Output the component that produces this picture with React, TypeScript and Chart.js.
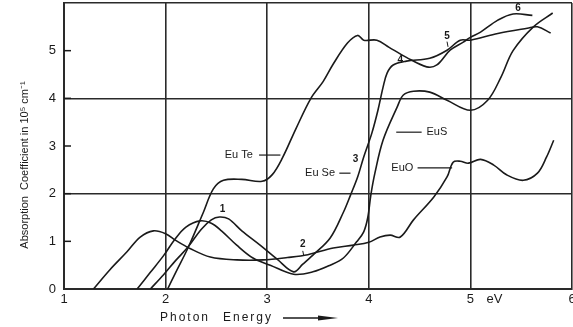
import { useEffect, useRef } from "react";
import { Chart, registerables } from "chart.js";

Chart.register(...registerables);

// Photon energy (eV) and absorption coefficient (10^5 cm^-1) for each compound
const euoEnergy = [1.29, 1.45, 1.62, 1.75, 1.88, 2.0, 2.1, 2.24, 2.44, 2.7, 2.96, 3.2, 3.4, 3.65, 3.85, 4.0, 4.11, 4.21, 4.31, 4.44, 4.64, 4.77, 4.83, 4.9, 4.98, 5.1, 5.23, 5.36, 5.52, 5.66, 5.75, 5.82];
const euoAbs = [0, 0.4, 0.78, 1.09, 1.22, 1.16, 1.02, 0.85, 0.67, 0.61, 0.61, 0.66, 0.72, 0.86, 0.92, 0.98, 1.09, 1.13, 1.09, 1.45, 1.93, 2.35, 2.66, 2.68, 2.64, 2.72, 2.6, 2.39, 2.28, 2.43, 2.77, 3.12];

const eusEnergy = [1.72, 1.85, 1.98, 2.09, 2.2, 2.34, 2.45, 2.55, 2.7, 2.86, 3.03, 3.26, 3.45, 3.62, 3.75, 3.88, 3.95, 3.99, 4.02, 4.06, 4.14, 4.28, 4.34, 4.44, 4.6, 4.77, 5.0, 5.17, 5.3, 5.42, 5.62, 5.81];
const eusAbs = [0, 0.35, 0.7, 1.04, 1.3, 1.43, 1.38, 1.22, 0.92, 0.65, 0.5, 0.31, 0.36, 0.5, 0.65, 0.99, 1.2, 1.5, 1.97, 2.43, 3.12, 3.82, 4.07, 4.15, 4.13, 3.96, 3.75, 3.96, 4.44, 5.0, 5.5, 5.79];

const euseEnergy = [1.85, 1.98, 2.1, 2.22, 2.35, 2.45, 2.53, 2.62, 2.75, 2.93, 3.1, 3.26, 3.35, 3.45, 3.62, 3.75, 3.82, 3.89, 3.95, 4.03, 4.09, 4.14, 4.18, 4.24, 4.37, 4.6, 4.77, 4.9, 5.0, 5.27, 5.56, 5.66, 5.79];
const euseAbs = [0, 0.3, 0.6, 0.88, 1.25, 1.45, 1.51, 1.47, 1.22, 0.92, 0.62, 0.36, 0.52, 0.71, 1.07, 1.61, 1.97, 2.35, 2.77, 3.27, 3.75, 4.23, 4.53, 4.7, 4.78, 4.84, 5.01, 5.22, 5.22, 5.36, 5.47, 5.5, 5.37];

const euteEnergy = [2.02, 2.1, 2.22, 2.37, 2.47, 2.57, 2.75, 2.95, 3.05, 3.15, 3.28, 3.43, 3.55, 3.65, 3.79, 3.89, 3.95, 4.08, 4.2, 4.37, 4.57, 4.67, 4.8, 4.93, 5.0, 5.1, 5.27, 5.42, 5.61];
const euteAbs = [0, 0.35, 0.86, 1.6, 2.1, 2.28, 2.3, 2.26, 2.4, 2.75, 3.35, 4.0, 4.35, 4.72, 5.16, 5.32, 5.22, 5.22, 5.07, 4.86, 4.66, 4.7, 5.01, 5.18, 5.28, 5.39, 5.64, 5.77, 5.74];

// Axis ticks
const energyTicks = [1, 2, 3, 4, 5, 6];
const absTicks = [0, 1, 2, 3, 4, 5];
const energyGrid = [2, 3, 4, 5, 6];
const absGrid = [2, 4, 6];

// Curve names with a leader line: [text, textX, textY, lineFromX, lineToX]
const curveNames: [string, number, number, number, number][] = [
  ["Eu Te", 2.72, 2.81, 2.92, 3.13],
  ["Eu Se", 3.52, 2.43, 3.71, 3.82],
  ["EuS", 4.67, 3.29, 4.27, 4.52],
  ["EuO", 4.33, 2.54, 4.48, 4.82],
];

// Numbered features: [text, x, y]
const featureMarks: [string, number, number][] = [
  ["1", 2.56, 1.68],
  ["2", 3.35, 0.93],
  ["3", 3.87, 2.73],
  ["4", 4.31, 4.8],
  ["5", 4.77, 5.3],
  ["6", 5.47, 5.88],
];

const INK = "#1a1a1a";
const FONT = "'Liberation Sans', Arial, sans-serif";

const toPoints = (xs: number[], ys: number[]) => xs.map((x, i) => ({ x, y: ys[i] }));

const decorations = {
  id: "decorations",
  afterDraw(chart: any) {
    const { ctx, scales } = chart;
    const xs = scales.x;
    const ys = scales.y;
    const px = (v: number) => xs.getPixelForValue(v);
    const py = (v: number) => ys.getPixelForValue(v);
    ctx.save();
    ctx.fillStyle = INK;
    ctx.strokeStyle = INK;

    // inward tick marks on the left axis
    ctx.lineWidth = 1.5;
    absTicks.forEach((v) => {
      if (v === 0) return;
      ctx.beginPath();
      ctx.moveTo(xs.left, py(v));
      ctx.lineTo(xs.left + 7, py(v));
      ctx.stroke();
    });

    // unit after the "5" tick label
    ctx.font = `13px ${FONT}`;
    ctx.textAlign = "left";
    ctx.textBaseline = "middle";
    ctx.fillText("eV", px(5) + 16, ys.bottom + 10);

    // curve names and leader lines
    ctx.font = `11px ${FONT}`;
    ctx.textAlign = "center";
    curveNames.forEach(([t, tx, ty, a, b]) => {
      ctx.fillText(t, px(tx), py(ty));
      ctx.lineWidth = 1.2;
      ctx.beginPath();
      ctx.moveTo(px(a), py(ty));
      ctx.lineTo(px(b), py(ty));
      ctx.stroke();
    });

    // numbered features
    ctx.font = `bold 10px ${FONT}`;
    featureMarks.forEach(([t, x, y]) => {
      ctx.fillText(t, px(x), py(y));
    });
    ctx.lineWidth = 1;
    [[3.35, 0.8, 0.7], [4.77, 5.19, 5.08]].forEach(([x, y0, y1]) => {
      ctx.beginPath();
      ctx.moveTo(px(x), py(y0));
      ctx.lineTo(px(x) + 1, py(y1));
      ctx.stroke();
    });

    // y axis title
    ctx.save();
    ctx.translate(25, 165);
    ctx.rotate(-Math.PI / 2);
    ctx.font = `11px ${FONT}`;
    ctx.textAlign = "center";
    ctx.textBaseline = "middle";
    ctx.fillText("Absorption  Coefficient in 10\u2075 cm\u207B\u00B9", 0, 0);
    ctx.restore();

    // x axis title with arrow
    ctx.font = `12px ${FONT}`;
    ctx.textAlign = "left";
    ctx.textBaseline = "middle";
    (ctx as any).letterSpacing = "2px";
    ctx.fillText("Photon", 160, 318);
    ctx.fillText("Energy", 223, 318);
    (ctx as any).letterSpacing = "0px";
    ctx.lineWidth = 1.5;
    ctx.beginPath();
    ctx.moveTo(283, 318);
    ctx.lineTo(322, 318);
    ctx.stroke();
    ctx.beginPath();
    ctx.moveTo(318, 315.5);
    ctx.lineTo(338, 318);
    ctx.lineTo(318, 320.5);
    ctx.closePath();
    ctx.fill();

    ctx.restore();
  },
};

export default function App() {
  const ref = useRef<HTMLCanvasElement>(null);

  useEffect(() => {
    if (!ref.current) return;
    const line = (label: string, xs: number[], ys: number[]) => ({
      label,
      data: toPoints(xs, ys),
      showLine: true,
      borderColor: INK,
      borderWidth: 1.6,
      pointRadius: 0,
      tension: 0.35,
      fill: false,
    });
    const chart = new Chart(ref.current, {
      type: "scatter",
      data: {
        datasets: [
          line("EuO", euoEnergy, euoAbs),
          line("EuS", eusEnergy, eusAbs),
          line("EuSe", euseEnergy, euseAbs),
          line("EuTe", euteEnergy, euteAbs),
        ],
      },
      options: {
        responsive: false,
        animation: false,
        events: [],
        layout: { padding: { top: 3, right: 1, left: 0, bottom: 0 } },
        plugins: { legend: { display: false }, tooltip: { enabled: false } },
        scales: {
          x: {
            type: "linear",
            min: 1,
            max: 6,
            afterFit: (s: any) => {
              s.height = 38;
              s.paddingLeft = 0;
              s.paddingRight = 0;
            },
            afterBuildTicks: (s: any) => {
              s.ticks = energyTicks.map((value) => ({ value }));
            },
            ticks: {
              padding: 3,
              color: INK,
              maxRotation: 0,
              autoSkip: false,
              font: { family: FONT, size: 13 },
              callback: (v: any) => String(v),
            },
            grid: {
              drawTicks: false,
              lineWidth: 1.6,
              color: (c: any) => (energyGrid.includes(c.tick?.value) ? "#2a2a2a" : "rgba(0,0,0,0)"),
            },
            border: { color: "#2a2a2a", width: 2 },
          },
          y: {
            type: "linear",
            min: 0,
            max: 6,
            afterFit: (s: any) => {
              s.width = 64;
              s.paddingTop = 0;
              s.paddingBottom = 0;
            },
            afterBuildTicks: (s: any) => {
              s.ticks = [...absTicks, 6].map((value) => ({ value }));
            },
            ticks: {
              padding: 8,
              color: INK,
              font: { family: FONT, size: 13 },
              callback: (v: any) => (absTicks.includes(v) ? String(v) : ""),
            },
            grid: {
              drawTicks: false,
              lineWidth: 1.6,
              color: (c: any) => (absGrid.includes(c.tick?.value) ? "#2a2a2a" : "rgba(0,0,0,0)"),
            },
            border: { color: "#2a2a2a", width: 2 },
          },
        },
      },
      plugins: [decorations],
    });
    return () => chart.destroy();
  }, []);

  return (
    <div style={{ position: "absolute", left: 0, top: 0, width: 573, height: 327, background: "#fff" }}>
      <canvas ref={ref} width={573} height={327} style={{ display: "block" }} />
    </div>
  );
}
